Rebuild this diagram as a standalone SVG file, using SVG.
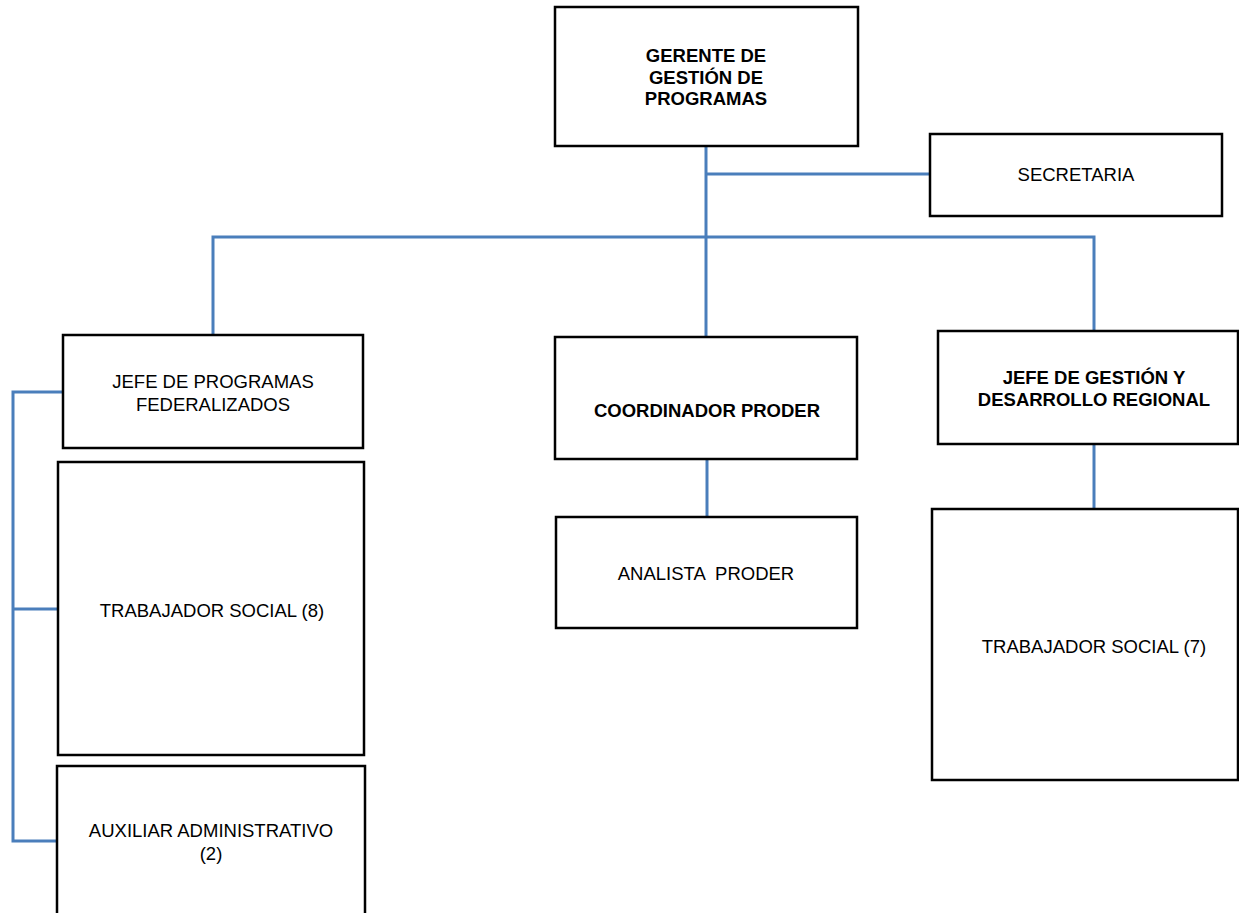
<svg xmlns="http://www.w3.org/2000/svg" width="1239" height="913" viewBox="0 0 1239 913">
<style>
.box{fill:#fff;stroke:#000;stroke-width:2.5}
.t{font-family:"Liberation Sans",Arial,sans-serif;font-size:18.5px;fill:#000;text-anchor:middle}
.b{font-weight:bold}
.c{fill:none;stroke:#4A7EBB;stroke-width:3}
</style>
<rect width="1239" height="913" fill="#fff"/>
<g id="connectors">
<polyline class="c" points="706,146 706,337"/>
<polyline class="c" points="706,174 930,174"/>
<polyline class="c" points="213,335 213,237 1094,237 1094,331"/>
<polyline class="c" points="707,459 707,517"/>
<polyline class="c" points="1094,444 1094,509"/>
<polyline class="c" points="63,392 13,392 13,841 57,841"/>
<polyline class="c" points="13,609 58,609"/>
</g>
<g id="gerente">
<rect class="box" x="555" y="7" width="303" height="139"/>
<text class="t b" x="706" y="62">GERENTE DE</text>
<text class="t b" x="706" y="83.5">GESTIÓN DE</text>
<text class="t b" x="706" y="105">PROGRAMAS</text>
</g>
<g id="secretaria">
<rect class="box" x="930" y="134" width="292" height="82"/>
<text class="t" x="1076" y="181">SECRETARIA</text>
</g>
<g id="jefe-federalizados">
<rect class="box" x="63" y="335" width="300" height="113"/>
<text class="t" x="213" y="388">JEFE DE PROGRAMAS</text>
<text class="t" x="213" y="411">FEDERALIZADOS</text>
</g>
<g id="trabajador8">
<rect class="box" x="58" y="462" width="306" height="293"/>
<text class="t" x="212" y="617">TRABAJADOR SOCIAL (8)</text>
</g>
<g id="auxiliar">
<rect class="box" x="57" y="766" width="308" height="170"/>
<text class="t" x="211" y="837">AUXILIAR ADMINISTRATIVO</text>
<text class="t" x="211" y="860">(2)</text>
</g>
<g id="coordinador">
<rect class="box" x="555" y="337" width="302" height="122"/>
<text class="t b" x="707" y="417">COORDINADOR PRODER</text>
</g>
<g id="analista">
<rect class="box" x="556" y="517" width="301" height="111"/>
<text class="t" x="706" y="580" xml:space="preserve">ANALISTA  PRODER</text>
</g>
<g id="jefe-gestion">
<rect class="box" x="938" y="331" width="300" height="113"/>
<text class="t b" x="1094" y="383.5">JEFE DE GESTIÓN Y</text>
<text class="t b" x="1094" y="406">DESARROLLO REGIONAL</text>
</g>
<g id="trabajador7">
<rect class="box" x="932" y="509" width="306" height="271"/>
<text class="t" x="1094" y="653">TRABAJADOR SOCIAL (7)</text>
</g>
</svg>
